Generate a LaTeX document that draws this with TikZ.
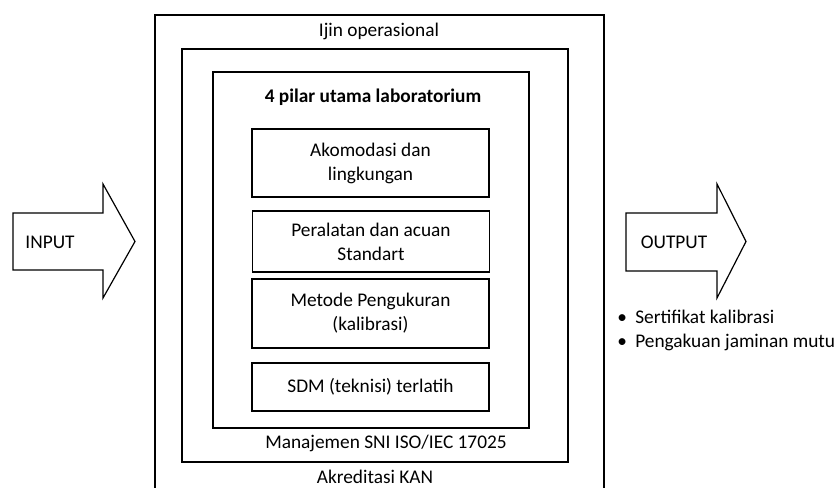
\documentclass[tikz,border=0pt]{standalone}
\usepackage{fontspec}
\setmainfont{Carlito}
\usetikzlibrary{positioning}
\tikzstyle{pilar}=[draw,line width=1.1pt,minimum width=177.75pt,text centered,align=center,font=\fontsize{14.5}{18}\selectfont]
\tikzstyle{lbl}=[font=\fontsize{14.5}{18}\selectfont,inner sep=0pt]
\tikzstyle{frame}=[draw,line width=1.1pt]
\tikzstyle{panah}=[draw,line width=0.9pt,line join=miter]

\begin{document}
\begin{tikzpicture}[x=0.75pt,y=-0.75pt]
    \useasboundingbox (0,0) rectangle (838,488);

    % bingkai bertingkat
    \draw[frame] (155,15) rectangle (604,494);
    \draw[frame] (182,49) rectangle (568,462);
    \draw[frame] (213,72) rectangle (529,428);

    \node [lbl] (ijin) at (379,31) {Ijin operasional};
    \node [lbl,font=\fontsize{14.5}{18}\selectfont\bfseries] (judul) at (373,97) {4 pilar utama laboratorium};
    \node [lbl] (mnj) at (386,443) {Manajemen SNI ISO/IEC 17025};
    \node [lbl] (kan) at (375,477) {Akreditasi KAN};

    % empat pilar
    \node [pilar,minimum height=51pt] (p1) at (370.5,163) {Akomodasi dan\\lingkungan};
    \node [pilar,minimum height=45.75pt] (p2) at (371,241.5) {Peralatan dan acuan\\Standart};
    \node [pilar,minimum height=51.75pt] (p3) at (370.5,313.5) {Metode Pengukuran\\(kalibrasi)};
    \node [pilar,minimum height=36pt] (p4) at (370.5,387) {SDM (teknisi) terlatih};

    % panah masuk dan keluar
    \draw[panah] (13,213) -- (103,213) -- (103,184) -- (135,241.5) -- (103,298) -- (103,270) -- (13,270) -- cycle;
    \node [lbl] (input) at (50,242) {INPUT};
    \draw[panah] (626,213) -- (717,213) -- (717,184) -- (746,241.5) -- (717,298) -- (717,271) -- (626,271) -- cycle;
    \node [lbl] (output) at (674,242) {OUTPUT};

    \node [lbl,anchor=west,align=left] (hasil) at (617,330)
      {\makebox[13.5pt][l]{\textbullet}Sertifikat kalibrasi\\\makebox[13.5pt][l]{\textbullet}Pengakuan jaminan mutu};
\end{tikzpicture}
\end{document}
